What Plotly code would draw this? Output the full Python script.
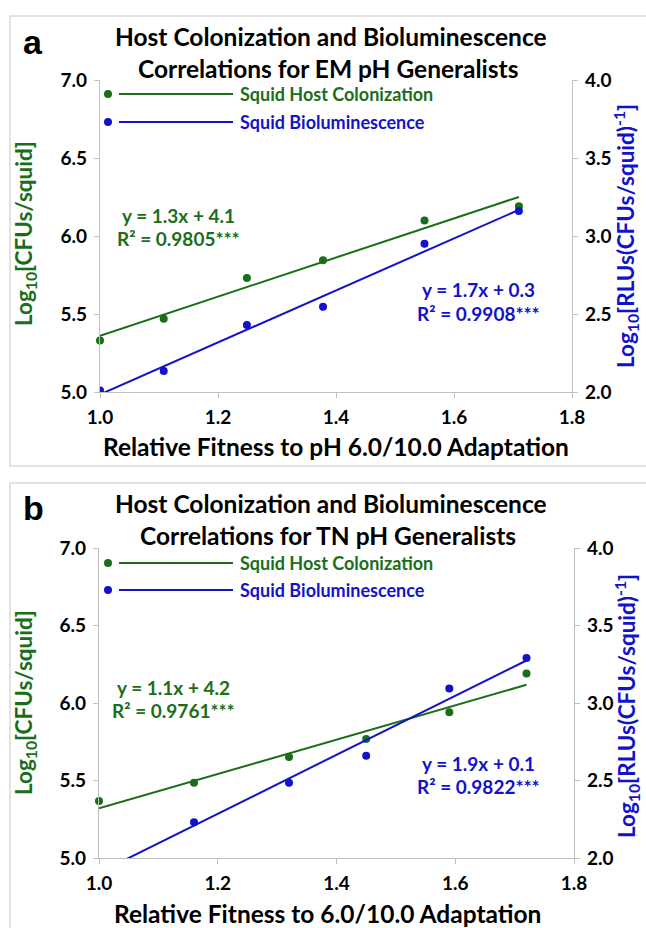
import numpy as np
import plotly.graph_objects as go

W, H = 646, 928

# ---------------- data ----------------
a_fitness = [1.0, 1.108, 1.249, 1.378, 1.55, 1.71]
a_colonization = [5.33, 5.47, 5.73, 5.845, 6.10, 6.19]
a_biolum = [2.01, 2.135, 2.43, 2.546, 2.95, 3.16]

b_fitness = [1.0, 1.16, 1.32, 1.45, 1.59, 1.72]
b_colonization = [5.367, 5.486, 5.652, 5.767, 5.94, 6.19]
b_biolum = [1.93, 2.23, 2.486, 2.66, 3.094, 3.29]

x_ticks = [1.0, 1.2, 1.4, 1.6, 1.8]
left_ticks = [5.0, 5.5, 6.0, 6.5, 7.0]
right_ticks = [2.0, 2.5, 3.0, 3.5, 4.0]

titles_a = ["Host Colonization and Bioluminescence", "Correlations for EM pH Generalists"]
titles_b = ["Host Colonization and Bioluminescence", "Correlations for TN pH Generalists"]
xtitles = ["Relative Fitness to pH 6.0/10.0 Adaptation", "Relative Fitness to 6.0/10.0 Adaptation"]
legend_names = ["Squid Host Colonization", "Squid Bioluminescence"]
eq_a = ["y = 1.3x + 4.1", "R² = 0.9805***", "y = 1.7x + 0.3", "R² = 0.9908***"]
eq_b = ["y = 1.1x + 4.2", "R² = 0.9761***", "y = 1.9x + 0.1", "R² = 0.9822***"]

GREEN = "#1a6e1a"
BLUE = "#1212cc"
AXC = "#bfbfbf"
FONT = "Lato"

def px(x):
    return x / W

def py(y):
    return 1 - y / H

fig = go.Figure()

def add_panel(xs, yg, yb, xa, ya_l, ya_r):
    fig.add_trace(go.Scatter(x=xs, y=yg, mode="markers", xaxis=xa, yaxis=ya_l,
                             marker=dict(color=GREEN, size=8), cliponaxis=False, showlegend=False))
    fig.add_trace(go.Scatter(x=xs, y=yb, mode="markers", xaxis=xa, yaxis=ya_r,
                             marker=dict(color=BLUE, size=8), cliponaxis=True, showlegend=False))
    for yv, col, ya in ((yg, GREEN, ya_l), (yb, BLUE, ya_r)):
        m, c = np.polyfit(xs, yv, 1)
        xl = np.array([min(xs), max(xs)])
        fig.add_trace(go.Scatter(x=xl, y=m * xl + c, mode="lines", xaxis=xa, yaxis=ya,
                                 line=dict(color=col, width=2), showlegend=False, hoverinfo="skip"))

add_panel(a_fitness, a_colonization, a_biolum, "x", "y", "y2")
add_panel(b_fitness, b_colonization, b_biolum, "x2", "y3", "y4")

tickfont = dict(family=FONT, size=19, color="black", weight="bold")
common = dict(showline=True, linecolor=AXC, linewidth=1.3, ticks="outside", ticklen=5,
              tickcolor=AXC, tickwidth=1.3, showgrid=False, zeroline=False, tickfont=tickfont,
              ticklabelstandoff=3, automargin=False)

xticktext = [f"{v:.1f}" for v in x_ticks]
lticktext = [f"{v:.1f}" for v in left_ticks]
rticktext = [f"{v:.1f}" for v in right_ticks]

ga = dict(x0=100, x1=572, top=80, bottom=392)
gb = dict(x0=99, x1=574, top=548, bottom=858)

fig.update_layout(
    xaxis=dict(domain=[px(ga["x0"]), px(ga["x1"])], range=[1.0, 1.8], anchor="y",
               tickvals=x_ticks, ticktext=xticktext, **common),
    yaxis=dict(domain=[py(ga["bottom"]), py(ga["top"])], range=[5.0, 7.0], anchor="x",
               tickvals=left_ticks, ticktext=lticktext, **common),
    yaxis2=dict(range=[2.0, 4.0], overlaying="y", side="right", anchor="x",
                tickvals=right_ticks, ticktext=rticktext, **common),
    xaxis2=dict(domain=[px(gb["x0"]), px(gb["x1"])], range=[1.0, 1.8], anchor="y3",
                tickvals=x_ticks, ticktext=xticktext, **common),
    yaxis3=dict(domain=[py(gb["bottom"]), py(gb["top"])], range=[5.0, 7.0], anchor="x2",
                tickvals=left_ticks, ticktext=lticktext, **common),
    yaxis4=dict(range=[2.0, 4.0], overlaying="y3", side="right", anchor="x2",
                tickvals=right_ticks, ticktext=rticktext, **common),
)

ann = []
shapes = []

def text(x, y, s, size, color="black", family=FONT, angle=0, xanchor="center", weight="bold"):
    ann.append(dict(x=px(x), y=py(y), xref="paper", yref="paper", text=s, showarrow=False,
                    xanchor=xanchor, yanchor="middle", textangle=angle,
                    font=dict(family=family, size=size, color=color, weight=weight)))

def panel_deco(frame, letter, letter_y, titles, title_y, xtitle, xt_pos, leg_y,
               eqs, eq_pos, ytitle_l, ytitle_r):
    shapes.append(dict(type="rect", xref="paper", yref="paper", x0=px(10), x1=px(652),
                       y0=py(frame[1]), y1=py(frame[0]), line=dict(color="#d9d9d9", width=1.5)))
    text(33, letter_y, letter, 34, family="Liberation Sans")
    text(331, title_y[0], titles[0], 24.5)
    text(328, title_y[1], titles[1], 24.5)
    text(xt_pos[0], xt_pos[1], xtitle, 24.5)
    text(25, ytitle_l, "Log<sub>10</sub>[CFUs/squid]", 22.5, color=GREEN, angle=-90)
    text(626, ytitle_r, "Log<sub>10</sub>[RLUs(CFUs/squid)<sup>-1</sup>]", 22.5, color=BLUE, angle=-90)
    for i, (name, col) in enumerate(zip(legend_names, [GREEN, BLUE])):
        yy = leg_y[i]
        shapes.append(dict(type="circle", xref="paper", yref="paper", x0=px(104), x1=px(112),
                           y0=py(yy + 4), y1=py(yy - 4), fillcolor=col, line=dict(width=0)))
        shapes.append(dict(type="line", xref="paper", yref="paper", x0=px(119), x1=px(233),
                           y0=py(yy), y1=py(yy), line=dict(color=col, width=2)))
        text(238, yy, name, 18, color=col, xanchor="left")
    (gx, gy1, gy2), (bx, by1, by2) = eq_pos
    text(gx, gy1, eqs[0], 19, color=GREEN)
    text(gx, gy2, eqs[1], 19, color=GREEN)
    text(bx, by1, eqs[2], 19, color=BLUE)
    text(bx, by2, eqs[3], 19, color=BLUE)

panel_deco((16, 466), "a", 42, titles_a, (36, 68), xtitles[0], (336, 446), (94, 122),
           eq_a, ((178, 215, 238), (478, 289, 313)), 234, 236)
panel_deco((483, 940), "b", 508, titles_b, (503, 535), xtitles[1], (327, 913), (563, 590),
           eq_b, ((173, 687, 710), (478, 763, 786)), 703, 706)

fig.update_layout(width=W, height=H, margin=dict(l=0, r=0, t=0, b=0, autoexpand=False),
                  paper_bgcolor="white", plot_bgcolor="white",
                  annotations=ann, shapes=shapes, showlegend=False)

fig.write_html("out.html",
               post_script="document.body.style.margin='0';document.body.style.overflow='hidden';")
